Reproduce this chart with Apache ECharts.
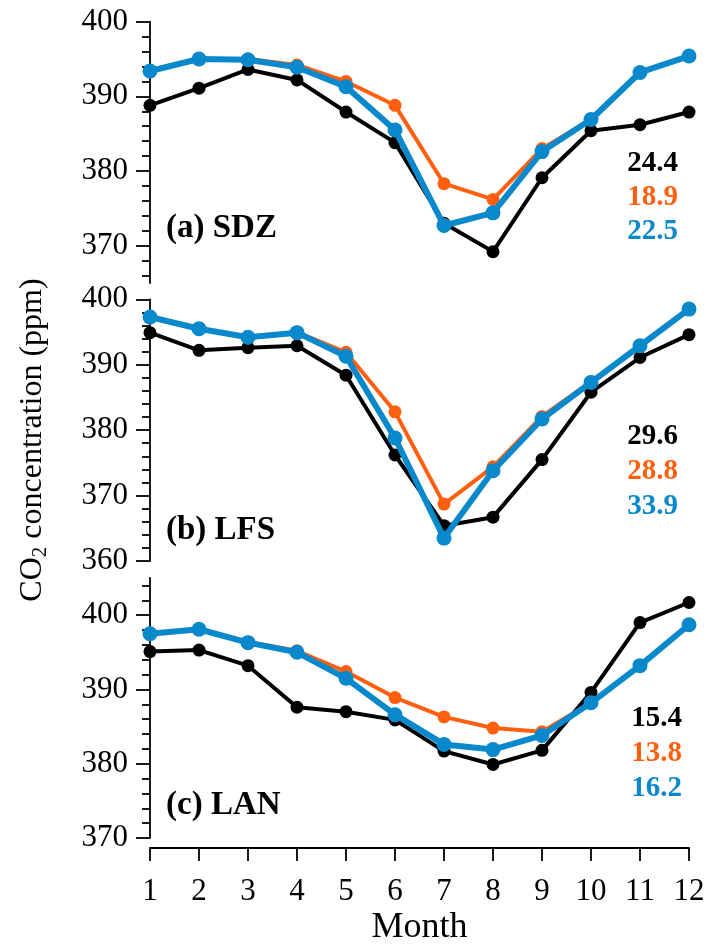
<!DOCTYPE html>
<html>
<head>
<meta charset="utf-8">
<script src="https://cdn.jsdelivr.net/npm/echarts@6/dist/echarts.min.js"></script>
<style>html,body{margin:0;padding:0;background:#fff}#c{width:709px;height:947px}</style>
</head>
<body>
<div id="c"></div>
<script>
var months = [1,2,3,4,5,6,7,8,9,10,11,12];
var monthLabels = ['1','2','3','4','5','6','7','8','9','10','11','12'];

// (a) SDZ
var sdzBlack  = [388.8, 391.1, 393.6, 392.2, 387.9, 383.8, 373.0, 369.2, 379.1, 385.4, 386.2, 387.9];
var sdzOrange = [393.4, 395.0, 395.0, 394.2, 392.0, 388.8, 378.3, 376.2, 383.0, 386.9, 393.2, 395.4];
var sdzBlue   = [393.4, 395.0, 394.9, 393.9, 391.3, 385.5, 372.7, 374.4, 382.6, 386.9, 393.2, 395.4];
// (b) LFS
var lfsBlack  = [394.9, 392.2, 392.6, 392.9, 388.4, 376.2, 365.4, 366.7, 375.5, 385.8, 391.1, 394.6];
var lfsOrange = [397.3, 395.5, 394.1, 395.0, 391.9, 382.8, 368.7, 374.4, 382.1, 387.4, 392.9, 398.5];
var lfsBlue   = [397.3, 395.5, 394.2, 394.9, 391.3, 378.8, 363.5, 373.8, 381.7, 387.3, 392.9, 398.5];
// (c) LAN
var lanBlack  = [395.1, 395.3, 393.2, 387.6, 387.0, 385.9, 381.7, 379.9, 381.8, 389.6, 399.0, 401.7];
var lanOrange = [397.5, 398.1, 396.4, 395.2, 392.4, 388.9, 386.3, 384.8, 384.3, 388.2, 393.2, 398.7];
var lanBlue   = [397.5, 398.1, 396.3, 395.0, 391.5, 386.6, 382.6, 381.9, 383.8, 388.2, 393.2, 398.7];

var panelNames = ['(a) SDZ', '(b) LFS', '(c) LAN'];
var amplitudes = [['24.4','18.9','22.5'], ['29.6','28.8','33.9'], ['15.4','13.8','16.2']];
var yMajorTicks = [[370,380,390,400], [360,370,380,390,400], [370,380,390,400]];
var yRanges = [[365,400], [360,400], [370,405]];

var FONT = "'Liberation Serif','Times New Roman',serif";
var BLACK = '#000000', ORANGE = '#ff6010', BLUE = '#0a88cc';

var panels = [
  {black: sdzBlack, orange: sdzOrange, blue: sdzBlue},
  {black: lfsBlack, orange: lfsOrange, blue: lfsBlue},
  {black: lanBlack, orange: lanOrange, blue: lanBlue}
];

var grids = [
  {left: 150, width: 539, top: 21.7, height: 261.3},
  {left: 150, width: 539, top: 299.3, height: 261.7},
  {left: 150, width: 539, top: 578, height: 261}
];

function pairs(vals){ return months.map(function(m,i){ return [m, vals[i]]; }); }
function minors(r, majors){
  var out = [];
  for (var v = Math.ceil(r[0]/2)*2; v <= r[1]; v += 2) { if (majors.indexOf(v) < 0) out.push(v); }
  return out;
}

var xAxes = [], yAxes = [], series = [], graphics = [];
for (var i = 0; i < 3; i++) {
  xAxes.push({
    gridIndex: i, type: 'value', min: 1, max: 12, interval: 1,
    show: i === 2, offset: 10,
    axisLine: {show: true, lineStyle: {color: '#000', width: 1.8}},
    axisTick: {show: true, inside: false, length: 13, lineStyle: {color: '#000', width: 1.8}},
    axisLabel: {fontSize: 31, fontFamily: FONT, color: '#000', margin: 28,
      formatter: function(v){ return monthLabels[v-1] || ''; }},
    splitLine: {show: false},
    name: i === 2 ? 'Month' : '', nameLocation: 'middle', nameGap: 62,
    nameTextStyle: {fontSize: 36, fontFamily: FONT, color: '#000'}
  });
}
for (var i = 0; i < 3; i++) {
  yAxes.push({
    gridIndex: i, type: 'value', position: 'left', min: yRanges[i][0], max: yRanges[i][1],
    axisLine: {show: true, onZero: false, lineStyle: {color: '#000', width: 1.8}},
    axisTick: {show: true, inside: false, length: 14, customValues: yMajorTicks[i], lineStyle: {color: '#000', width: 1.8}},
    axisLabel: {show: true, customValues: yMajorTicks[i], fontSize: 31, fontFamily: FONT, color: '#000', margin: 22},
    splitLine: {show: false}
  });
}
for (var i = 0; i < 3; i++) {
  yAxes.push({
    gridIndex: i, type: 'value', position: 'left', offset: 0, min: yRanges[i][0], max: yRanges[i][1],
    axisLine: {show: false, onZero: false},
    axisTick: {show: true, inside: false, length: 8, customValues: minors(yRanges[i], yMajorTicks[i]), lineStyle: {color: '#000', width: 1.8}},
    axisLabel: {show: false},
    splitLine: {show: false}
  });
}
for (var i = 0; i < 3; i++) {
  var p = panels[i];
  series.push({type: 'line', xAxisIndex: i, yAxisIndex: i, data: pairs(p.black), clip: false,
    symbol: 'circle', symbolSize: 13, lineStyle: {color: BLACK, width: 4}, itemStyle: {color: BLACK}, z: 2});
  series.push({type: 'line', xAxisIndex: i, yAxisIndex: i, data: pairs(p.orange), clip: false,
    symbol: 'circle', symbolSize: 13, lineStyle: {color: ORANGE, width: 4}, itemStyle: {color: ORANGE}, z: 3});
  series.push({type: 'line', xAxisIndex: i, yAxisIndex: i, data: pairs(p.blue), clip: false,
    symbol: 'circle', symbolSize: 15, lineStyle: {color: BLUE, width: 6}, itemStyle: {color: BLUE}, z: 4});
}

var labelY = [228, 530, 805];
var ampY = [[164,198,232],[437,472,507],[719,754,789]];
var ampX = [678, 678, 682];
var ampColors = [BLACK, ORANGE, BLUE];
for (var i = 0; i < 3; i++) {
  graphics.push({type: 'text', x: 166, y: labelY[i], z: 10,
    style: {text: panelNames[i], fill: '#000', font: 'bold 33px ' + FONT, align: 'left', verticalAlign: 'middle'}});
  for (var k = 0; k < 3; k++) {
    graphics.push({type: 'text', x: ampX[i], y: ampY[i][k], z: 10,
      style: {text: amplitudes[i][k], fill: ampColors[k], font: 'bold 29px ' + FONT, align: 'right', verticalAlign: 'middle'}});
  }
}
graphics.push({type: 'text', x: 33, y: 440, rotation: Math.PI/2, z: 10,
  style: {text: '{a|CO}{b|2}{a| concentration (ppm)}', align: 'center', verticalAlign: 'middle',
    rich: {
      a: {fontSize: 32, fontFamily: FONT, fill: '#000', color: '#000', lineHeight: 36},
      b: {fontSize: 21, fontFamily: FONT, fill: '#000', color: '#000', verticalAlign: 'bottom', lineHeight: 24, padding: [13,0,0,0]}
    }}});

var chart = echarts.init(document.getElementById('c'), null, {renderer: 'canvas'});
chart.setOption({
  animation: false,
  backgroundColor: '#fff',
  grid: grids,
  xAxis: xAxes,
  yAxis: yAxes,
  series: series,
  graphic: graphics
});
</script>
</body>
</html>
